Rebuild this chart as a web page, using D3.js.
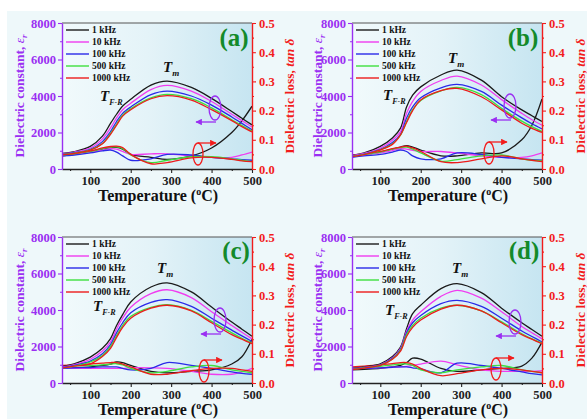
<!DOCTYPE html>
<html><head><meta charset="utf-8">
<script src="https://cdn.jsdelivr.net/npm/d3@7"></script>
<style>html,body{margin:0;padding:0;background:#fff;overflow:hidden}</style>
</head><body>
<svg id="c" width="587" height="419"></svg>
<script>
// ---------------- data ----------------
const T = [30, 60, 100, 130, 150, 165, 180, 200, 250, 290, 350, 400, 450, 475, 500];
const freqs = ["1 kHz", "10 kHz", "100 kHz", "500 kHz", "1000 kHz"];
const panelLabels = ["(a)", "(b)", "(c)", "(d)"];
const xTicks = [100, 200, 300, 400, 500];
const xMinor = [50, 150, 250, 350, 450];
const yLeftTicks = [0, 2000, 4000, 6000, 8000];
const yLeftMinor = [1000, 3000, 5000, 7000];
const yRightTicks = [0, 0.1, 0.2, 0.3, 0.4, 0.5];
const yRightMinor = [0.05, 0.15, 0.25, 0.35, 0.45];

const epsA = [
  [850, 950, 1240, 1800, 2500, 3000, 3450, 3820, 4600, 4820, 4470, 3870, 3150, 2780, 2420],
  [830, 930, 1150, 1650, 2250, 2800, 3250, 3600, 4350, 4580, 4270, 3700, 3000, 2650, 2300],
  [800, 890, 1080, 1500, 2050, 2600, 3050, 3400, 4080, 4270, 4000, 3500, 2850, 2500, 2150],
  [790, 870, 1050, 1400, 1950, 2450, 2950, 3300, 3900, 4090, 3850, 3350, 2700, 2380, 2080],
  [780, 860, 1030, 1380, 1900, 2400, 2900, 3250, 3850, 4020, 3780, 3250, 2650, 2320, 2030]
];
const tanA = [
  [0.045, 0.05, 0.06, 0.068, 0.072, 0.074, 0.068, 0.05, 0.04, 0.033, 0.045, 0.072, 0.125, 0.165, 0.215],
  [0.045, 0.05, 0.057, 0.065, 0.07, 0.068, 0.06, 0.05, 0.052, 0.052, 0.045, 0.04, 0.04, 0.048, 0.058],
  [0.045, 0.048, 0.055, 0.062, 0.065, 0.058, 0.045, 0.03, 0.035, 0.05, 0.048, 0.04, 0.035, 0.032, 0.03],
  [0.048, 0.052, 0.06, 0.07, 0.075, 0.076, 0.07, 0.048, 0.022, 0.03, 0.042, 0.042, 0.035, 0.03, 0.025],
  [0.05, 0.053, 0.062, 0.072, 0.077, 0.078, 0.073, 0.05, 0.018, 0.022, 0.038, 0.04, 0.033, 0.028, 0.025]
];
const epsB = [
  [750, 880, 1240, 1700, 2240, 3400, 4050, 4500, 5150, 5420, 4870, 3960, 3240, 2920, 2600],
  [730, 850, 1150, 1580, 2050, 3050, 3700, 4250, 4850, 5090, 4600, 3800, 3050, 2700, 2400],
  [700, 820, 1080, 1450, 1900, 2800, 3400, 3900, 4450, 4640, 4250, 3500, 2800, 2480, 2200],
  [690, 800, 1050, 1380, 1850, 2600, 3250, 3750, 4280, 4470, 4080, 3320, 2620, 2320, 2050],
  [680, 790, 1050, 1350, 1870, 2550, 3200, 3780, 4290, 4420, 3960, 3240, 2510, 2230, 2000]
];
const tanB = [
  [0.045, 0.05, 0.058, 0.068, 0.075, 0.08, 0.075, 0.065, 0.045, 0.045, 0.055, 0.055, 0.1, 0.15, 0.24],
  [0.045, 0.048, 0.055, 0.063, 0.07, 0.068, 0.064, 0.06, 0.06, 0.055, 0.045, 0.04, 0.04, 0.045, 0.055],
  [0.04, 0.045, 0.05, 0.058, 0.065, 0.06, 0.045, 0.035, 0.035, 0.055, 0.05, 0.04, 0.035, 0.032, 0.03],
  [0.045, 0.05, 0.058, 0.068, 0.073, 0.075, 0.068, 0.055, 0.027, 0.032, 0.045, 0.048, 0.035, 0.03, 0.028],
  [0.048, 0.052, 0.06, 0.07, 0.075, 0.078, 0.072, 0.06, 0.025, 0.022, 0.035, 0.045, 0.035, 0.03, 0.025]
];
const epsC = [
  [900, 1050, 1420, 1900, 2430, 3150, 3750, 4440, 5260, 5490, 4990, 4160, 3340, 2950, 2560],
  [870, 1000, 1300, 1750, 2250, 2950, 3550, 4150, 4900, 5110, 4680, 3900, 3150, 2780, 2420],
  [840, 960, 1200, 1600, 2100, 2750, 3300, 3850, 4420, 4570, 4200, 3550, 2900, 2580, 2280],
  [820, 930, 1150, 1500, 2000, 2600, 3150, 3650, 4150, 4290, 3980, 3380, 2750, 2450, 2200],
  [820, 920, 1050, 1450, 1900, 2500, 3050, 3550, 4100, 4260, 3950, 3300, 2650, 2400, 2150]
];
const tanC = [
  [0.05, 0.052, 0.055, 0.06, 0.065, 0.072, 0.07, 0.06, 0.04, 0.035, 0.04, 0.045, 0.065, 0.09, 0.15],
  [0.05, 0.05, 0.05, 0.05, 0.05, 0.05, 0.05, 0.052, 0.052, 0.05, 0.04, 0.03, 0.03, 0.038, 0.05],
  [0.05, 0.052, 0.053, 0.055, 0.055, 0.055, 0.05, 0.045, 0.05, 0.07, 0.06, 0.05, 0.038, 0.033, 0.03],
  [0.055, 0.058, 0.06, 0.062, 0.065, 0.066, 0.062, 0.05, 0.035, 0.04, 0.055, 0.06, 0.045, 0.04, 0.035],
  [0.06, 0.062, 0.065, 0.068, 0.07, 0.07, 0.065, 0.055, 0.03, 0.03, 0.042, 0.05, 0.05, 0.045, 0.04]
];
const epsD = [
  [800, 880, 1050, 1450, 1970, 2980, 3800, 4260, 5170, 5440, 4950, 4100, 3300, 2930, 2560],
  [780, 860, 1000, 1380, 1900, 2850, 3450, 3900, 4750, 5080, 4650, 3900, 3100, 2750, 2420],
  [760, 840, 980, 1350, 1850, 2750, 3300, 3700, 4350, 4530, 4200, 3550, 2850, 2550, 2250],
  [750, 830, 970, 1320, 1800, 2650, 3150, 3550, 4100, 4260, 3950, 3350, 2700, 2420, 2200],
  [740, 820, 960, 1300, 1750, 2550, 3050, 3450, 4050, 4260, 3950, 3300, 2650, 2400, 2150]
];
const tanD = [
  [0.045, 0.047, 0.05, 0.055, 0.06, 0.07, 0.085, 0.082, 0.05, 0.04, 0.045, 0.05, 0.058, 0.085, 0.14],
  [0.05, 0.05, 0.052, 0.054, 0.055, 0.057, 0.06, 0.065, 0.075, 0.062, 0.045, 0.04, 0.04, 0.04, 0.042],
  [0.05, 0.05, 0.052, 0.054, 0.055, 0.055, 0.052, 0.048, 0.035, 0.068, 0.06, 0.05, 0.038, 0.032, 0.028],
  [0.05, 0.053, 0.057, 0.062, 0.065, 0.065, 0.06, 0.045, 0.035, 0.045, 0.055, 0.06, 0.045, 0.04, 0.035],
  [0.055, 0.058, 0.062, 0.066, 0.07, 0.07, 0.065, 0.05, 0.025, 0.032, 0.045, 0.05, 0.045, 0.04, 0.035]
];
const epsAll = [epsA, epsB, epsC, epsD];
const tanAll = [tanA, tanB, tanC, tanD];

// ---------------- styles / layout ----------------
const colors = ["#1a1a1a", "#f03cf0", "#2a2ae8", "#3ee03e", "#ec1c1c"];
const PURPLE = "#9a2ff2", RED = "#f21c1c", GREEN = "#138a2a";
const FONT = "'Liberation Serif','Times New Roman',serif";
const panels = [
  {x0: 62, x1: 252, y0: 23, y1: 169, tm: [163, 72], tfr: [100, 101], pe: [215, 108], re: [198, 154], lab: [234, 46], tl: 19, tr: 289},
  {x0: 352, x1: 542, y0: 23, y1: 169, tm: [448, 63], tfr: [383, 100], pe: [510, 106], re: [489, 153], lab: [523, 46], tl: 317, tr: 580},
  {x0: 62, x1: 252, y0: 237, y1: 383, tm: [157, 273], tfr: [93, 311], pe: [220, 320], re: [204, 371], lab: [236, 259], tl: 19, tr: 289},
  {x0: 352, x1: 542, y0: 237, y1: 383, tm: [452, 273], tfr: [385, 315], pe: [515, 322], re: [496, 369], lab: [524, 259], tl: 317, tr: 580}
];

const svg = d3.select("#c");
svg.append("rect").attr("x", 7).attr("y", 11).attr("width", 580).attr("height", 408).attr("fill", "#eef8fa");
const defs = svg.append("defs");
const g0 = defs.append("linearGradient").attr("id", "pg").attr("x1", 0).attr("x2", 1).attr("y1", 0).attr("y2", 0);
g0.append("stop").attr("offset", 0).attr("stop-color", "#f1fafc");
g0.append("stop").attr("offset", 0.45).attr("stop-color", "#e4f3f8");
g0.append("stop").attr("offset", 1).attr("stop-color", "#c6e5f1");
const mk = (id, col) => defs.append("marker").attr("id", id).attr("viewBox", "0 0 10 10").attr("refX", 9).attr("refY", 5)
  .attr("markerWidth", 5).attr("markerHeight", 5).attr("orient", "auto")
  .append("path").attr("d", "M0,0L10,5L0,10z").attr("fill", col);
mk("ap", PURPLE); mk("ar", RED);

panels.forEach((p, i) => {
  const g = svg.append("g");
  const x = d3.scaleLinear().domain([30, 500]).range([p.x0, p.x1]);
  const yL = d3.scaleLinear().domain([0, 8000]).range([p.y1, p.y0]);
  const yR = d3.scaleLinear().domain([0, 0.5]).range([p.y1, p.y0]);

  g.append("rect").attr("x", p.x0).attr("y", p.y0).attr("width", p.x1 - p.x0).attr("height", p.y1 - p.y0).attr("fill", "url(#pg)");
  defs.append("clipPath").attr("id", "cl" + i).append("rect")
    .attr("x", p.x0).attr("y", p.y0).attr("width", p.x1 - p.x0).attr("height", p.y1 - p.y0);

  const plot = g.append("g").attr("clip-path", `url(#cl${i})`);
  const lineL = d3.line().x((d, k) => x(T[k])).y(d => yL(d)).curve(d3.curveCatmullRom.alpha(0.5));
  const lineR = d3.line().x((d, k) => x(T[k])).y(d => yR(d)).curve(d3.curveCatmullRom.alpha(0.5));
  tanAll[i].forEach((s, j) => plot.append("path").attr("d", lineR(s)).attr("fill", "none").attr("stroke", colors[j]).attr("stroke-width", 1.3));
  epsAll[i].forEach((s, j) => plot.append("path").attr("d", lineL(s)).attr("fill", "none").attr("stroke", colors[j]).attr("stroke-width", 1.3));

  // top frame
  g.append("line").attr("x1", p.x0).attr("x2", p.x1).attr("y1", p.y0).attr("y2", p.y0).attr("stroke", "#555").attr("stroke-width", 1.2);

  // axes
  const styleAx = (sel, col, fs) => {
    sel.selectAll("path.domain").attr("stroke", col).attr("stroke-width", 1.4);
    sel.selectAll(".tick line").attr("stroke", col).attr("stroke-width", 1.1);
    sel.selectAll(".tick text").attr("fill", col).attr("font-family", FONT).attr("font-weight", "bold").attr("font-size", fs);
  };
  const axB = g.append("g").attr("transform", `translate(0,${p.y1})`)
    .call(d3.axisBottom(x).tickValues(xTicks).tickSize(4).tickSizeOuter(0).tickPadding(3).tickFormat(d3.format("d")));
  styleAx(axB, "#222", 12.5);
  const axBm = g.append("g").attr("transform", `translate(0,${p.y1})`)
    .call(d3.axisBottom(x).tickValues(xMinor).tickSize(2).tickSizeOuter(0).tickFormat(""));
  styleAx(axBm, "#222", 10);
  axBm.select("path.domain").remove();

  const axL = g.append("g").attr("transform", `translate(${p.x0},0)`)
    .call(d3.axisLeft(yL).tickValues(yLeftTicks).tickSize(4).tickSizeOuter(0).tickPadding(2).tickFormat(d3.format("d")));
  styleAx(axL, PURPLE, 12.5);
  const axLm = g.append("g").attr("transform", `translate(${p.x0},0)`)
    .call(d3.axisLeft(yL).tickValues(yLeftMinor).tickSize(2).tickSizeOuter(0).tickFormat(""));
  styleAx(axLm, PURPLE, 10);
  axLm.select("path.domain").remove();

  const axR = g.append("g").attr("transform", `translate(${p.x1},0)`)
    .call(d3.axisRight(yR).tickValues(yRightTicks).tickSize(4).tickSizeOuter(0).tickPadding(3).tickFormat(d3.format(".1f")));
  styleAx(axR, RED, 12.5);
  const axRm = g.append("g").attr("transform", `translate(${p.x1},0)`)
    .call(d3.axisRight(yR).tickValues(yRightMinor).tickSize(2).tickSizeOuter(0).tickFormat(""));
  styleAx(axRm, RED, 10);
  axRm.select("path.domain").remove();

  // axis titles
  const xt = g.append("text").attr("x", (p.x0 + p.x1) / 2 + 1).attr("y", p.y1 + 32).attr("text-anchor", "middle")
    .attr("font-family", FONT).attr("font-weight", "bold").attr("font-size", 16).attr("fill", "#111");
  xt.append("tspan").text("Temperature (");
  xt.append("tspan").attr("dy", -6).attr("font-size", 10).text("o");
  xt.append("tspan").attr("dy", 6).text("C)");

  const yc = (p.y0 + p.y1) / 2;
  const tl = g.append("text").attr("transform", `translate(${p.tl},${yc}) rotate(-90)`).attr("text-anchor", "middle")
    .attr("font-family", FONT).attr("font-weight", "bold").attr("font-size", 13.5).attr("fill", PURPLE).attr("dy", "0.35em");
  tl.append("tspan").text("Dielectric constant, ");
  tl.append("tspan").attr("font-style", "italic").attr("font-weight", "normal").text("ε");
  tl.append("tspan").attr("font-style", "italic").attr("font-size", 9).attr("dy", 3).text("r");

  const tr = g.append("text").attr("transform", `translate(${p.tr},${yc}) rotate(-90)`).attr("text-anchor", "middle")
    .attr("font-family", FONT).attr("font-weight", "bold").attr("font-size", 13.5).attr("fill", RED).attr("dy", "0.35em");
  tr.append("tspan").text("Dielectric loss, ");
  tr.append("tspan").attr("font-style", "italic").text("tan δ");

  // legend
  freqs.forEach((f, j) => {
    const ly = p.y0 + 7 + j * 12;
    g.append("line").attr("x1", p.x0 + 4).attr("x2", p.x0 + 27).attr("y1", ly).attr("y2", ly).attr("stroke", colors[j]).attr("stroke-width", 1.4);
    g.append("text").attr("x", p.x0 + 30).attr("y", ly + 3.3).text(f)
      .attr("font-family", FONT).attr("font-weight", "bold").attr("font-size", 9.5).attr("fill", "#111");
  });

  // panel label
  g.append("text").attr("x", p.lab[0]).attr("y", p.lab[1]).attr("text-anchor", "middle").text(panelLabels[i])
    .attr("font-family", FONT).attr("font-weight", "bold").attr("font-size", 25).attr("fill", GREEN);

  // T annotations
  const tm = g.append("text").attr("x", p.tm[0]).attr("y", p.tm[1]).attr("font-family", FONT).attr("font-weight", "bold")
    .attr("font-style", "italic").attr("font-size", 15).attr("fill", "#111");
  tm.append("tspan").text("T");
  tm.append("tspan").attr("font-size", 9).attr("dy", 4).text("m");
  const tf = g.append("text").attr("x", p.tfr[0]).attr("y", p.tfr[1]).attr("font-family", FONT).attr("font-weight", "bold")
    .attr("font-style", "italic").attr("font-size", 15).attr("fill", "#111");
  tf.append("tspan").text("T");
  tf.append("tspan").attr("font-size", 8).attr("dy", 4).text("F-R");

  // ellipses + arrows
  g.append("ellipse").attr("cx", p.pe[0]).attr("cy", p.pe[1]).attr("rx", 6).attr("ry", 12)
    .attr("fill", "none").attr("stroke", PURPLE).attr("stroke-width", 1.3);
  g.append("line").attr("x1", p.pe[0] + 1).attr("y1", p.pe[1] + 14).attr("x2", p.pe[0] - 19).attr("y2", p.pe[1] + 14)
    .attr("stroke", PURPLE).attr("stroke-width", 1.3).attr("marker-end", "url(#ap)");
  g.append("ellipse").attr("cx", p.re[0]).attr("cy", p.re[1]).attr("rx", 5).attr("ry", 11)
    .attr("fill", "none").attr("stroke", RED).attr("stroke-width", 1.3);
  g.append("line").attr("x1", p.re[0]).attr("y1", p.re[1] - 11).attr("x2", p.re[0] + 18).attr("y2", p.re[1] - 11)
    .attr("stroke", RED).attr("stroke-width", 1.3).attr("marker-end", "url(#ar)");
});
</script>
</body></html>
